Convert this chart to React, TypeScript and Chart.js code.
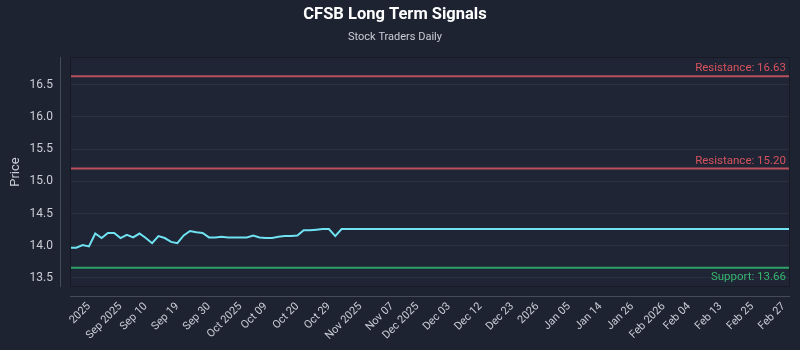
import { useEffect, useRef } from "react";
import { Chart, registerables } from "chart.js";

Chart.register(...registerables);

// ---- data ----
const pointCount = 115;
const tickLabels = [
  "2025", "Sep 2025", "Sep 10", "Sep 19", "Sep 30", "Oct 2025", "Oct 09", "Oct 20",
  "Oct 29", "Nov 2025", "Nov 07", "Dec 2025", "Dec 03", "Dec 12", "Dec 23", "2026",
  "Jan 05", "Jan 14", "Jan 26", "Feb 2026", "Feb 04", "Feb 13", "Feb 25", "Feb 27",
];
const tickAt = [3, 8, 12, 17, 22, 27, 31, 36, 41, 46, 51, 55, 60, 65, 70, 74, 79, 84, 89, 94, 98, 103, 108, 113];
const prices = [
  13.97, 13.97, 14.01, 13.99, 14.19, 14.12, 14.2, 14.2, 14.12, 14.17, 14.13,
  14.19, 14.12, 14.04, 14.15, 14.12, 14.06, 14.04, 14.16, 14.23, 14.21, 14.2,
  14.13, 14.13, 14.14, 14.13, 14.13, 14.13, 14.13, 14.16, 14.13, 14.12, 14.12,
  14.14, 14.15, 14.15, 14.16, 14.24, 14.24, 14.25, 14.26, 14.26, 14.15, 14.26,
];
const lastPrice = 14.26;
const resistanceLevels = [16.63, 15.2];
const supportLevels = [13.66];
const yTickValues = [13.5, 14.0, 14.5, 15.0, 15.5, 16.0, 16.5];
const yMin = 13.36;
const yMax = 16.93;

// ---- styles ----
const BG = "#1e2332";
const PLOT_BG = "#1f2535";
const TEXT = "#c9cdd6";
const RED = "#b9505d";
const RED_TEXT = "#d8525e";
const GREEN = "#2ea169";
const GREEN_TEXT = "#36b56f";
const LINE = "#6fe3f2";
const FONT = "Roboto, 'Noto Sans', sans-serif";

export default function App() {
  const ref = useRef<HTMLCanvasElement>(null);

  useEffect(() => {
    document.body.style.margin = "0";
    document.body.style.background = BG;
    const categories = Array.from({ length: pointCount }, (_, i) => {
      const k = tickAt.indexOf(i);
      return k >= 0 ? tickLabels[k] : "";
    });
    const priceData = categories.map((_, i) =>
      i < prices.length ? prices[i] : i === pointCount - 1 ? lastPrice : null
    );

    const decor = {
      id: "decor",
      beforeDraw(chart: any) {
        const { ctx, chartArea: a, width, height } = chart;
        ctx.save();
        ctx.fillStyle = BG;
        ctx.fillRect(0, 0, width, height);
        ctx.fillStyle = PLOT_BG;
        ctx.fillRect(a.left, a.top, a.right - a.left, a.bottom - a.top);
        ctx.restore();
      },
      afterDraw(chart: any) {
        const { ctx, chartArea: a } = chart;
        const y = chart.scales.y;
        ctx.save();
        ctx.strokeStyle = "#151a25";
        ctx.lineWidth = 1;
        ctx.strokeRect(a.left + 0.5, a.top + 0.5, a.right - a.left - 1, a.bottom - a.top - 1);
        ctx.strokeStyle = "#454b5a";
        ctx.beginPath();
        ctx.moveTo(a.left - 9.5, a.top);
        ctx.lineTo(a.left - 9.5, a.bottom);
        ctx.moveTo(a.left, a.bottom + 9.5);
        ctx.lineTo(a.right, a.bottom + 9.5);
        ctx.stroke();
        ctx.font = `11.5px ${FONT}`;
        ctx.textAlign = "right";
        resistanceLevels.forEach((v) => {
          ctx.fillStyle = RED_TEXT;
          ctx.textBaseline = "bottom";
          ctx.fillText(`Resistance: ${v.toFixed(2)}`, a.right - 4, y.getPixelForValue(v) - 2);
        });
        supportLevels.forEach((v) => {
          ctx.fillStyle = GREEN_TEXT;
          ctx.textBaseline = "top";
          ctx.fillText(`Support: ${v.toFixed(2)}`, a.right - 4, y.getPixelForValue(v) + 4);
        });
        ctx.restore();
      },
    };

    const chart = new Chart(ref.current!, {
      type: "line",
      data: {
        labels: categories,
        datasets: [
          {
            label: "Price",
            data: priceData,
            borderColor: LINE,
            borderWidth: 2,
            pointRadius: 0,
            spanGaps: true,
            tension: 0,
          },
          ...resistanceLevels.map((v) => ({
            label: "Resistance",
            data: categories.map(() => v),
            borderColor: RED,
            borderWidth: 2,
            pointRadius: 0,
          })),
          ...supportLevels.map((v) => ({
            label: "Support",
            data: categories.map(() => v),
            borderColor: GREEN,
            borderWidth: 2,
            pointRadius: 0,
          })),
        ],
      } as any,
      options: {
        responsive: false,
        animation: false,
        layout: { padding: { right: 10, left: 0, top: 0, bottom: 0 } },
        plugins: {
          legend: { display: false },
          tooltip: { enabled: false },
          title: {
            display: true,
            text: "CFSB Long Term Signals",
            color: "#ffffff",
            font: { family: FONT, size: 16.5, weight: "bold" },
            padding: { top: 5, bottom: 6 },
          },
          subtitle: {
            display: true,
            text: "Stock Traders Daily",
            color: TEXT,
            font: { family: FONT, size: 11 },
            padding: { top: 0, bottom: 13 },
          },
        },
        scales: {
          x: {
            ticks: {
              autoSkip: false,
              maxRotation: 45,
              minRotation: 45,
              color: TEXT,
              font: { family: FONT, size: 11 },
              padding: 13,
            },
            grid: { display: false, drawTicks: false },
            border: { display: false },
            afterFit: (s: any) => {
              s.height = 63;
              s.paddingLeft = 0;
              s.paddingRight = 0;
            },
          },
          y: {
            min: yMin,
            max: yMax,
            ticks: {
              color: TEXT,
              font: { family: FONT, size: 12 },
              padding: 17,
              callback: (v: any) => Number(v).toFixed(1),
            },
            afterBuildTicks: (s: any) => {
              s.ticks = yTickValues.map((v) => ({ value: v }));
            },
            grid: { color: "rgba(255,255,255,0.06)", drawTicks: false },
            border: { display: false },
            title: {
              display: true,
              text: "Price",
              color: TEXT,
              font: { family: FONT, size: 13 },
              padding: { top: 8, bottom: 0 },
            },
            afterFit: (s: any) => {
              s.width = 70;
            },
          },
        },
      },
      plugins: [decor],
    });
    return () => chart.destroy();
  }, []);

  return (
    <div style={{ width: 800, height: 350, background: BG }}>
      <canvas ref={ref} width={800} height={350} style={{ display: "block" }} />
    </div>
  );
}
